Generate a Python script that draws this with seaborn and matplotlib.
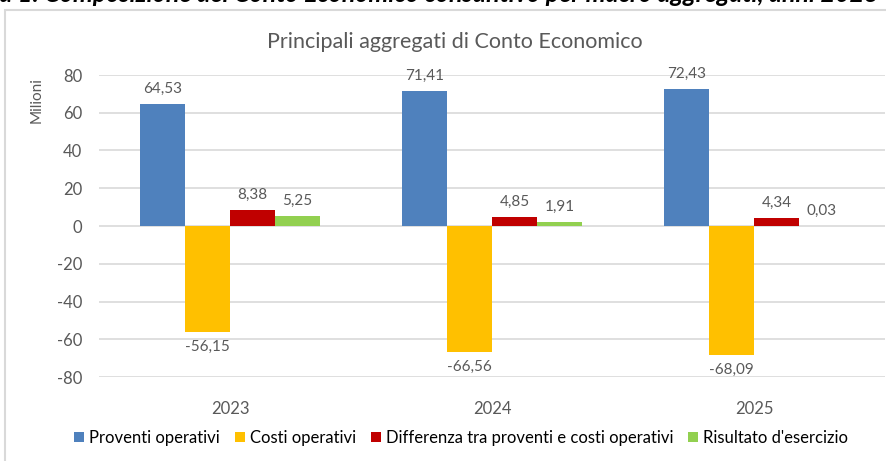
import matplotlib
matplotlib.use("Agg")
import matplotlib.pyplot as plt
import seaborn as sns
import pandas as pd
from matplotlib.patches import Rectangle

years = ["2023", "2024", "2025"]
series = ["Proventi operativi", "Costi operativi",
          "Differenza tra proventi e costi operativi", "Risultato d'esercizio"]
proventi = [64.53, 71.41, 72.43]
costi = [-56.15, -66.56, -68.09]
differenza = [8.38, 4.85, 4.34]
risultato = [5.25, 1.91, 0.03]
yticks = [-80, -60, -40, -20, 0, 20, 40, 60, 80]
colors = ["#4f81bd", "#ffc000", "#c00000", "#92d050"]

rows = []
for s, vals in zip(series, [proventi, costi, differenza, risultato]):
    for y, v in zip(years, vals):
        rows.append({"Anno": y, "Serie": s, "Valore": v})
df = pd.DataFrame(rows)

sns.set_theme(style="white")
plt.rcParams["font.family"] = ["Lato", "DejaVu Sans"]
TXT = "#595959"

fig = plt.figure(figsize=(8.86, 4.61), dpi=100)
ax = fig.add_axes([99/886, 1-377/461, 786/886, 302/461])

sns.barplot(data=df, x="Anno", y="Valore", hue="Serie", order=years,
            hue_order=series, palette=colors, width=0.687, gap=0,
            saturation=1, ax=ax, legend=True, linewidth=0)

ax.set_ylim(-80, 80)
ax.set_yticks(yticks)
ax.set_yticklabels([str(t) for t in yticks])
ax.set_xlim(-0.5, 2.5)
ax.grid(axis="y", color="#d9d9d9", linewidth=1.2)
ax.set_axisbelow(True)
for sp in ax.spines.values():
    sp.set_visible(False)
ax.tick_params(axis="y", length=0, pad=12, labelsize=12, labelcolor=TXT)
ax.tick_params(axis="x", length=0, pad=17, labelsize=12, labelcolor=TXT)
ax.set_xlabel("")
ax.set_ylabel("")

for cont in ax.containers:
    for bar in cont:
        v = bar.get_height()
        x = bar.get_x() + bar.get_width() / 2
        lab = f"{v:.2f}".replace(".", ",")
        if v >= 0:
            ax.annotate(lab, (x, v), xytext=(0, 6), textcoords="offset points",
                        ha="center", va="bottom", fontsize=11, color=TXT)
        else:
            ax.annotate(lab, (x, v), xytext=(0, -6), textcoords="offset points",
                        ha="center", va="top", fontsize=11, color=TXT)

leg = ax.legend(loc="center", bbox_to_anchor=(461/886, 1-438/461),
                bbox_transform=fig.transFigure, ncol=4, frameon=False,
                fontsize=12, handlelength=0.6, handleheight=0.6,
                handletextpad=0.3, columnspacing=0.9)
for t in leg.get_texts():
    t.set_color("black")

fig.text(455/886, 1-42/461, "Principali aggregati di Conto Economico",
         ha="center", va="center", fontsize=15.5, color=TXT)
fig.text(37/886, 1-100/461, "Milioni", rotation=90, ha="center",
         va="center", fontsize=11, color=TXT)

fig.patches.append(Rectangle((5/886, -0.1), 1.2, 1 - 10/461 + 0.1,
                             transform=fig.transFigure, fill=False,
                             edgecolor="#d9d9d9", linewidth=1.5))
fig.text(-0.062, 1 - 1.5/461,
         "Figura 1: Composizione del Conto Economico consuntivo per macro aggregati, anni 2023-2025",
         ha="left", va="baseline", fontsize=18, fontweight="bold",
         fontstyle="italic", color="black")

fig.savefig("out.png", dpi=100)
